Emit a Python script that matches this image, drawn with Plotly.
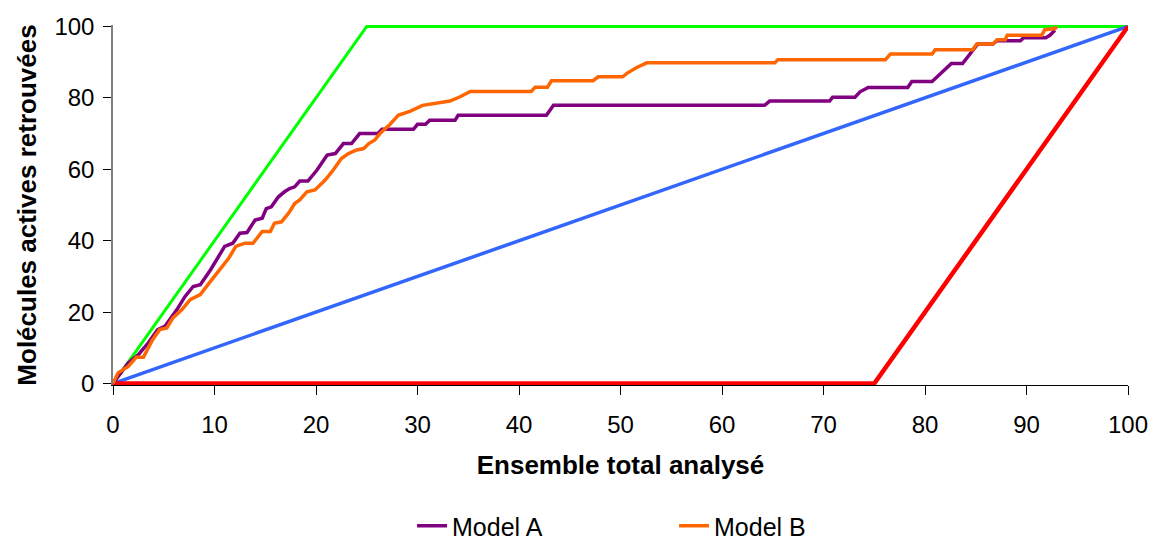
import plotly.graph_objects as go

# Courbes d'enrichissement : % de l'ensemble analysé vs % de molécules actives retrouvées
model_a_x = [0, 1.5, 2.5, 3.5, 4.4, 5.1, 6.3, 7.1, 7.9, 8.6, 9.6, 10.2, 11.0, 11.8, 12.5, 13.2,
             14.0, 14.7, 15.1, 15.6, 16.3, 16.9, 17.4, 17.9, 18.4, 19.2, 20.1, 21.1, 21.9, 22.7,
             23.5, 24.3, 26.1, 26.5, 29.6, 30.0, 30.8, 31.2, 33.7, 34.0, 42.7, 43.4, 64.2, 64.7,
             70.6, 70.9, 73.1, 73.6, 74.4, 78.3, 78.7, 80.7, 81.2, 81.6, 82.6, 83.7, 84.7, 85.2,
             86.7, 87.1, 89.4, 89.7, 91.9, 92.3, 92.8]
model_a_y = [0, 5.8, 8.1, 11.5, 15.1, 16.0, 20.7, 24.4, 27.2, 27.7, 31.8, 34.6, 38.4, 39.3, 42.1, 42.3,
             45.8, 46.3, 49.0, 49.5, 52.3, 53.7, 54.6, 55.1, 56.7, 56.7, 59.8, 64.0, 64.4, 67.2,
             67.2, 70.0, 70.0, 71.2, 71.2, 72.6, 72.6, 73.7, 73.7, 75.1, 75.1, 77.9, 77.9, 79.1,
             79.1, 80.2, 80.2, 81.7, 82.9, 82.9, 84.6, 84.6, 85.9, 86.8, 89.6, 89.6, 93.3, 95.1,
             95.1, 96.0, 96.0, 96.8, 96.8, 97.5, 98.9]

model_b_x = [0, 0.5, 1.5, 2.3, 3.0, 3.9, 4.6, 5.3, 5.9, 6.8, 7.6, 8.6, 9.6, 10.5, 11.4, 12.1, 12.6,
             13.0, 13.8, 14.2, 14.7, 15.5, 15.9, 16.6, 17.3, 17.9, 18.4, 19.1, 19.9, 20.4, 20.9,
             21.7, 22.5, 23.2, 24.0, 24.7, 25.2, 25.8, 26.3, 27.3, 28.1, 29.3, 30.5, 33.2, 34.2,
             35.2, 41.2, 41.6, 42.8, 43.2, 47.3, 47.8, 50.2, 50.7, 51.6, 52.6, 65.2, 65.5, 76.1,
             76.6, 80.7, 81.0, 84.7, 85.1, 86.7, 87.1, 87.9, 88.1, 91.5, 91.8, 92.8, 93.0]
model_b_y = [0, 3.0, 4.8, 7.4, 7.4, 12.3, 15.1, 15.6, 18.4, 20.7, 23.5, 24.9, 28.6, 31.8, 35.1, 38.4, 38.8,
             39.3, 39.3, 40.7, 42.6, 42.6, 44.9, 45.3, 47.7, 50.4, 51.4, 53.7, 54.2, 55.6, 57.0,
             59.8, 63.0, 64.4, 65.4, 65.8, 67.2, 68.2, 70.0, 72.6, 75.1, 76.3, 77.9, 79.1, 80.3,
             81.8, 81.8, 83.0, 83.0, 84.8, 84.8, 85.9, 85.9, 87.0, 88.5, 89.8, 89.8, 90.7, 90.7,
             92.3, 92.3, 93.5, 93.5, 95.1, 95.1, 96.3, 96.3, 97.5, 97.5, 99.1, 99.4, 100]

# Courbes de référence : idéale, aléatoire, pire cas
ideal_x = [0, 25, 100]
ideal_y = [0, 100, 100]
random_x = [0, 100]
random_y = [0, 100]
worst_x = [0, 75, 100]
worst_y = [0, 0, 100]

x_ticks = [0, 10, 20, 30, 40, 50, 60, 70, 80, 90, 100]
y_ticks = [0, 20, 40, 60, 80, 100]

FONT = "Liberation Sans, Arial, sans-serif"

fig = go.Figure()
fig.add_trace(go.Scatter(x=ideal_x, y=ideal_y, mode="lines", showlegend=False,
                         line=dict(color="#00FF00", width=3), hoverinfo="skip"))
fig.add_trace(go.Scatter(x=random_x, y=random_y, mode="lines", showlegend=False,
                         line=dict(color="#3366FF", width=3.5), hoverinfo="skip"))
fig.add_trace(go.Scatter(x=worst_x, y=worst_y, mode="lines", showlegend=False,
                         line=dict(color="#FF0000", width=4.5), hoverinfo="skip"))
fig.add_trace(go.Scatter(x=model_a_x, y=model_a_y, mode="lines", name="Model A",
                         line=dict(color="#800080", width=3.5)))
fig.add_trace(go.Scatter(x=model_b_x, y=model_b_y, mode="lines", name="Model B",
                         line=dict(color="#FF6600", width=3.5)))

fig.update_layout(
    width=1153, height=549,
    margin=dict(l=113, r=25, t=25, b=164),
    paper_bgcolor="white", plot_bgcolor="white",
    font=dict(family=FONT, size=24, color="black"),
    xaxis=dict(
        range=[0, 100], tickvals=x_ticks, ticktext=[str(v) for v in x_ticks],
        showgrid=False, zeroline=False, showline=True, linecolor="#000000", linewidth=1.2,
        ticks="outside", ticklen=9, tickcolor="#000000", tickwidth=1,
        tickfont=dict(size=24), ticklabelstandoff=9, automargin=False,
        title=dict(text="<b>Ensemble total analysé</b>", font=dict(size=26), standoff=18),
    ),
    yaxis=dict(
        range=[-0.4, 100.4], tickvals=y_ticks, ticktext=[str(v) for v in y_ticks],
        showgrid=False, zeroline=False, showline=True, linecolor="#808080", linewidth=1.5,
        ticks="outside", ticklen=8, tickcolor="#000000", tickwidth=1,
        tickfont=dict(size=24), ticklabelstandoff=4, automargin=False,
        title=dict(text="<b>Molécules actives retrouvées</b>", font=dict(size=26), standoff=10),
    ),
    legend=dict(
        orientation="h", xref="container", yref="container",
        x=0.5846, xanchor="center", y=-0.008, yanchor="bottom",
        font=dict(size=25), entrywidth=217, entrywidthmode="pixels",
        bgcolor="rgba(0,0,0,0)",
    ),
)

fig.write_html("out.html")
